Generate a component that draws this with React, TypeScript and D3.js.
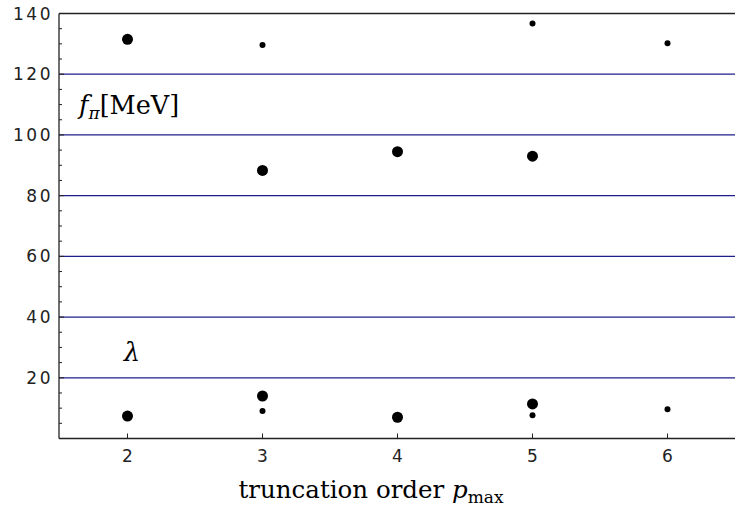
import React from "react";
import * as d3 from "d3";

// Truncation orders and fitted values (large markers: one fit family, small markers: the other)
const largeOrders = [2, 3, 4, 5];
const fpiLarge = [131.5, 88.3, 94.5, 93.0];
const lambdaLarge = [7.4, 14.0, 7.0, 11.4];

const smallOrders = [3, 5, 6];
const fpiSmall = [129.6, 136.7, 130.2];
const lambdaSmall = [9.1, 7.7, 9.6];

const xTicks = [2, 3, 4, 5, 6];
const yTicks = [20, 40, 60, 80, 100, 120, 140];
const gridValues = [20, 40, 60, 80, 100, 120];

const W = 735;
const H = 512;

export default function App() {
  const x = d3.scaleLinear().domain([1.5, 6.5]).range([60, 735]);
  const y = d3.scaleLinear().domain([0, 140]).range([438.5, 13.5]);
  const minor = d3.range(5, 140, 5).filter((v) => v % 20 !== 0);
  const x0 = 59;

  const tickFont = {
    fontFamily: "DejaVu Sans",
    fontSize: 17,
    letterSpacing: "2.5px",
    fill: "#222",
  } as const;
  const serif = "'DejaVu Serif', 'Liberation Serif', serif";

  const dots = (orders: number[], vals: number[], r: number, key: string) =>
    orders.map((p, i) => (
      <circle key={`${key}-${p}`} cx={x(p)} cy={y(vals[i])} r={r} fill="#000" />
    ));

  return (
    <svg
      width={W}
      height={H}
      style={{ position: "absolute", left: 0, top: 0, background: "#fff" }}
    >
      {/* horizontal reference lines */}
      {gridValues.map((v) => (
        <line
          key={`g${v}`}
          x1={x0}
          x2={W}
          y1={y(v)}
          y2={y(v)}
          stroke="#1f1f8c"
          strokeWidth={1.2}
        />
      ))}

      {/* frame */}
      <line x1={x0} x2={W} y1={y(140)} y2={y(140)} stroke="#222" strokeWidth={1.3} />
      <line x1={x0} x2={x0} y1={y(140)} y2={y(0)} stroke="#222" strokeWidth={1.3} />
      <line x1={x0} x2={W} y1={y(0)} y2={y(0)} stroke="#222" strokeWidth={1.3} />

      {/* y ticks */}
      {yTicks.map((v) => (
        <g key={`yt${v}`}>
          <line x1={x0} x2={x0 + 5} y1={y(v)} y2={y(v)} stroke="#222" />
          <text
            x={53}
            y={y(v)}
            dy="0.36em"
            textAnchor="end"
            style={tickFont}
          >
            {v}
          </text>
        </g>
      ))}
      {minor.map((v) => (
        <line key={`ym${v}`} x1={x0} x2={x0 + 3} y1={y(v)} y2={y(v)} stroke="#222" />
      ))}

      {/* x ticks */}
      {xTicks.map((p) => (
        <g key={`xt${p}`}>
          <line x1={x(p)} x2={x(p)} y1={y(0)} y2={y(0) - 5} stroke="#222" />
          <text
            x={x(p) + 1.25}
            y={461.5}
            textAnchor="middle"
            style={tickFont}
          >
            {p}
          </text>
        </g>
      ))}

      {/* data */}
      {dots(largeOrders, fpiLarge, 5.5, "fl")}
      {dots(largeOrders, lambdaLarge, 5.5, "ll")}
      {dots(smallOrders, fpiSmall, 3, "fs")}
      {dots(smallOrders, lambdaSmall, 3, "ls")}

      {/* series labels */}
      <text x={79} y={114} style={{ fontFamily: serif, fontSize: 25.5 }}>
        <tspan fontStyle="italic">f</tspan>
        <tspan fontStyle="italic" fontSize={17} dy={5}>π</tspan>
        <tspan dy={-5}>[MeV]</tspan>
      </text>
      <text
        x={132}
        y={361}
        textAnchor="middle"
        style={{ fontFamily: serif, fontSize: 26, fontStyle: "italic" }}
      >
        λ
      </text>

      {/* axis title */}
      <text
        x={371}
        y={498}
        textAnchor="middle"
        style={{ fontFamily: serif, fontSize: 24.5 }}
      >
        truncation order <tspan fontStyle="italic">p</tspan>
        <tspan fontSize={17} dy={5}>max</tspan>
      </text>
    </svg>
  );
}
